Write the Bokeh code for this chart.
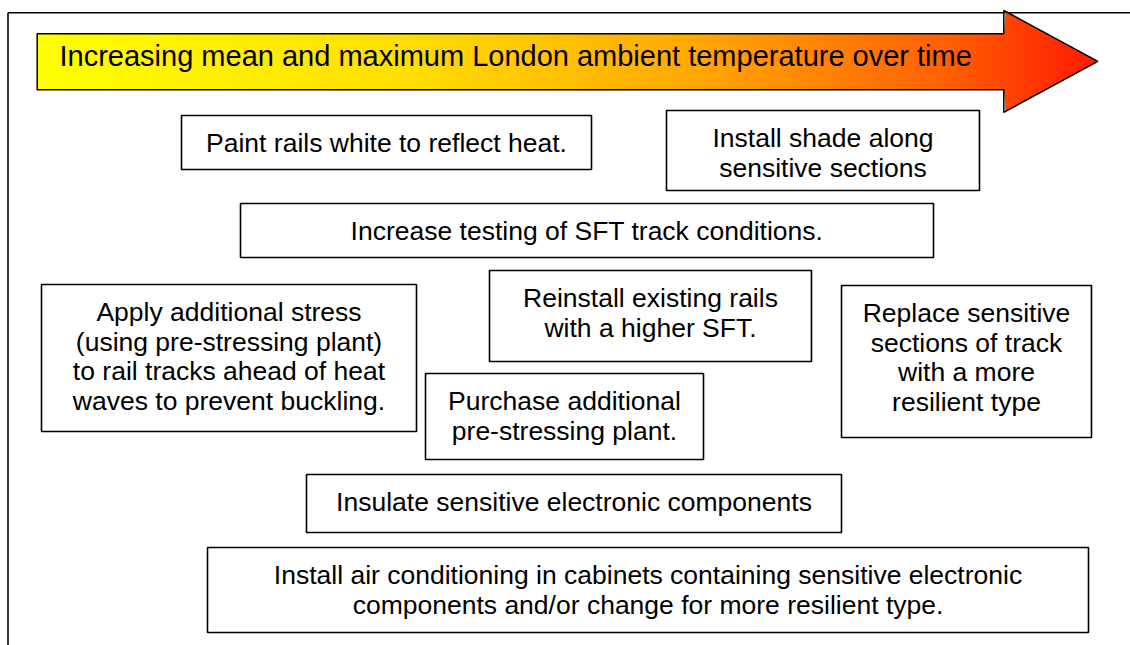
import numpy as np
from bokeh.plotting import figure
from bokeh.models import Range1d
from bokeh.core.properties import value
from bokeh.embed import file_html
from bokeh.resources import INLINE

# ---- content ----
title_text = "Increasing mean and maximum London ambient temperature over time"

box_labels = [
    ["Paint rails white to reflect heat."],
    ["Install shade along", "sensitive sections"],
    ["Increase testing of SFT track conditions."],
    ["Apply additional stress", "(using pre-stressing plant)", "to rail tracks ahead of heat", "waves to prevent buckling."],
    ["Reinstall existing rails", "with a higher SFT."],
    ["Replace sensitive", "sections of track", "with a more", "resilient type"],
    ["Purchase additional", "pre-stressing plant."],
    ["Insulate sensitive electronic components"],
    ["Install air conditioning in cabinets containing sensitive electronic", "components and/or change for more resilient type."],
]

# box extents in page pixels (left, right, top, bottom)
box_x0 = [181, 666, 240, 41, 489, 841, 425, 306, 207]
box_x1 = [591, 979, 933, 416, 811, 1091, 703, 841, 1088]
box_y0 = [115, 110, 203, 284, 270, 285, 373, 474, 547]
box_y1 = [169, 190, 257, 431, 361, 437, 459, 532, 632]

FONT = "Liberation Sans"
FS = 26.5
LH = 29.5
TOP_PAD = 27.5

W, H = 1130, 645
p = figure(width=W, height=H, output_backend="svg", toolbar_location=None,
           x_range=Range1d(0, W), y_range=Range1d(H, 0),
           min_border=0, outline_line_color=None)
p.axis.visible = False
p.grid.visible = False
p.background_fill_color = "white"
p.border_fill_color = "white"

# outer frame (continues beyond the picture at right and bottom)
p.line(x=[7.5, 7.5], y=[H + 5, 12.3], line_color="black", line_width=1.6)
p.line(x=[7.5, W + 5], y=[12.3, 12.3], line_color="black", line_width=1.6)

# arrow geometry
AX0, AXH, AXT = 36.7, 1003.3, 1097.3
BT, BB, HT, HB = 33.3, 89.2, 10.0, 111.8
CY = (HT + HB) / 2

def edges(xv):
    if xv <= AXH:
        return BT, BB
    h = (HB - HT) / 2 * (AXT - xv) / (AXT - AXH)
    return CY - h, CY + h

stop_x = [AX0, 400, 700, 950, AXT]
stop_g = [255, 222, 165, 92, 22]

xs, ys, cols = [], [], []
step = 2.0
xa = AX0
while xa < AXT - 1e-9:
    xb = min(xa + step, AXT)
    pts = [xa, xb]
    if xa < AXH < xb:
        pts = [xa, AXH, xb]
    top_pts = [(v, edges(v)[0]) for v in pts]
    bot_pts = [(v, edges(v)[1]) for v in pts]
    poly = top_pts + bot_pts[::-1]
    xs.append([q[0] + (0.6 if q[0] == xb else 0) for q in poly])
    ys.append([q[1] for q in poly])
    g = np.interp((xa + xb) / 2, stop_x, stop_g)
    cols.append("#%02x%02x%02x" % (255, int(round(g)), 0))
    xa = xb
p.patches(xs=xs, ys=ys, fill_color=cols, line_color=None)

ax = [AX0, AXH, AXH, AXT, AXH, AXH, AX0]
ay = [BT, BT, HT, CY, HB, BB, BB]
p.patch(x=ax, y=ay, fill_color=None, fill_alpha=0, line_color="black", line_width=1.5)

p.text(x=[59], y=[55.8], text=[title_text], text_font=value(FONT),
       text_font_size=value("29px"), text_align="left", text_baseline="middle",
       text_color="black")

# boxes
p.quad(left=box_x0, right=box_x1, top=box_y0, bottom=box_y1,
       fill_color="white", line_color="black", line_width=1.6)

tx, ty, tt = [], [], []
for lines, x0, x1, y0 in zip(box_labels, box_x0, box_x1, box_y0):
    cx = (x0 + x1) / 2
    for i, s in enumerate(lines):
        tx.append(cx)
        ty.append(y0 + TOP_PAD + i * LH)
        tt.append(s)
p.text(x=tx, y=ty, text=tt, text_font=value(FONT), text_font_size=value(f"{FS}px"),
       text_align="center", text_baseline="middle", text_color="black")

open("out.html", "w").write(file_html(p, INLINE))
